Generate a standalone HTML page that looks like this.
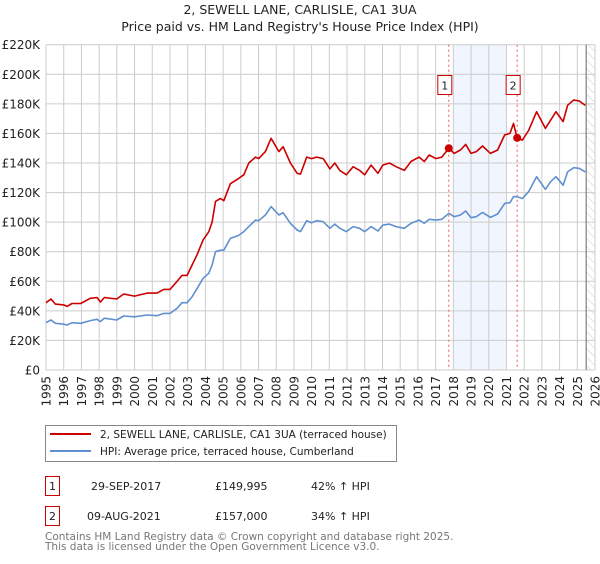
<!DOCTYPE html>
<html><head><meta charset="utf-8"><style>
html,body{margin:0;padding:0;background:#fff;}
body{width:600px;height:560px;overflow:hidden;font-family:"DejaVu Sans","Liberation Sans",sans-serif;}
svg text{font-family:"DejaVu Sans","Liberation Sans",sans-serif;}
</style></head><body>
<svg id="chart" width="600" height="560" xmlns="http://www.w3.org/2000/svg">
<text x="300" y="14" text-anchor="middle" font-size="12.5" fill="#222">2, SEWELL LANE, CARLISLE, CA1 3UA</text>
<text x="300" y="31" text-anchor="middle" font-size="12.5" fill="#222">Price paid vs. HM Land Registry's House Price Index (HPI)</text>
<g id="grid"></g><g id="marks"></g><g id="axes"></g>
<g>
<rect x="45.5" y="425.5" width="351" height="36" fill="#fff" stroke="#888"/>
<line x1="50" y1="434" x2="91" y2="434" stroke="#cc0000" stroke-width="2"/>
<text x="100" y="438" font-size="10.5" fill="#222">2, SEWELL LANE, CARLISLE, CA1 3UA (terraced house)</text>
<line x1="50" y1="451" x2="91" y2="451" stroke="#6090d0" stroke-width="2"/>
<text x="100" y="455" font-size="10.5" fill="#222">HPI: Average price, terraced house, Cumberland</text>
</g>
<g>
<rect x="45.5" y="476.5" width="14" height="19" fill="#fff" stroke="#cc0000"/>
<text x="52.5" y="490" text-anchor="middle" font-size="11" fill="#222">1</text>
<text x="91" y="487" font-size="11" fill="#222" dominant-baseline="middle">29-SEP-2017</text>
<text x="215" y="487" font-size="11" fill="#222" dominant-baseline="middle">£149,995</text>
<text x="311" y="487" font-size="11" fill="#222" dominant-baseline="middle">42% ↑ HPI</text>
<rect x="45.5" y="506.5" width="14" height="19" fill="#fff" stroke="#cc0000"/>
<text x="52.5" y="520" text-anchor="middle" font-size="11" fill="#222">2</text>
<text x="87" y="517" font-size="11" fill="#222" dominant-baseline="middle">09-AUG-2021</text>
<text x="215" y="517" font-size="11" fill="#222" dominant-baseline="middle">£157,000</text>
<text x="311" y="517" font-size="11" fill="#222" dominant-baseline="middle">34% ↑ HPI</text>
</g>
<text x="45" y="540" font-size="10.5" fill="#777">Contains HM Land Registry data © Crown copyright and database right 2025.</text>
<text x="45" y="550" font-size="10.5" fill="#777">This data is licensed under the Open Government Licence v3.0.</text>
</svg>
<script>
const dates=[1995.0,1995.28,1995.53,1996.0,1996.19,1996.47,1996.96,1997.5,1997.88,1998.07,1998.3,1998.99,1999.39,2000.0,2000.71,2001.27,2001.65,2002.0,2002.4,2002.68,2002.97,2003.25,2003.53,2003.87,2004.19,2004.38,2004.57,2004.85,2005.04,2005.41,2005.88,2006.17,2006.45,2006.83,2007.01,2007.39,2007.71,2008.15,2008.39,2008.8,2009.18,2009.37,2009.72,2010.0,2010.28,2010.65,2011.03,2011.31,2011.59,2011.96,2012.34,2012.71,2012.99,2013.36,2013.74,2014.02,2014.39,2014.77,2015.23,2015.61,2016.07,2016.36,2016.64,2017.01,2017.35,2017.75,2018.05,2018.4,2018.7,2019.0,2019.3,2019.65,2020.1,2020.5,2020.9,2021.2,2021.4,2021.6,2021.9,2022.25,2022.7,2023.2,2023.5,2023.8,2024.2,2024.45,2024.8,2025.1,2025.45];
const propertyValues=[45.5,48,44.6,44,43,45,45,48.5,49,46,49,48,51.4,50,52,52,54.5,54.5,60,64,64,71,78,88,93.5,100,114,116,114.5,126,129.6,132,140,144,143,147.7,156.7,147.7,151,140,133,132.5,144,143,144,143,136,140,135,132,137.5,135,132,138.6,133,138.6,140,137.5,135,141,144,141,145.4,143,144,150,146.5,148.8,152.6,146.5,147.7,151.5,146.5,148.8,159,160,166.8,157,155.5,162,174.7,163.4,169,174.7,168,179,182.6,182,179];
const hpiValues=[32,33.8,31.6,31,30.4,32,31.6,33.4,34.3,32.7,35,33.8,36.5,36,37.2,36.7,38.3,38.3,41.7,45.5,45.5,49.6,55.2,62,65.4,71,80,81,81,89,91,93.6,97,101.4,101,104.8,110.5,104.8,106.4,99.2,94.7,93.6,101,99.6,101,100.3,95.8,98.7,95.8,93.6,97,95.8,93.6,97,94,98,98.7,97,95.8,99.2,101.4,99.2,101.9,101.4,101.9,106,103.7,104.8,107.5,103,103.7,106.6,103.2,105.5,112.7,113.2,117.2,117.2,116,120.6,130.7,122.2,127.4,130.7,125,134,136.8,136.4,134];
const saleDates=[2017.745,2021.605];
const salePrices=[149.995,157];
const saleLabels=["1","2"];
const yTicks=[0,20,40,60,80,100,120,140,160,180,200,220];
const yTickLabels=["£0","£20K","£40K","£60K","£80K","£100K","£120K","£140K","£160K","£180K","£200K","£220K"];
const xTicks=[1995,1996,1997,1998,1999,2000,2001,2002,2003,2004,2005,2006,2007,2008,2009,2010,2011,2012,2013,2014,2015,2016,2017,2018,2019,2020,2021,2022,2023,2024,2025,2026];

const L=46,R=595,T=44.7,B=370;
const X0=1995,X1=2026,Ymax=220;
const xs=v=>L+(v-X0)/(X1-X0)*(R-L);
const ys=v=>B-v/Ymax*(B-T);
const NS="http://www.w3.org/2000/svg";
function mk(tag,attrs,parent){const e=document.createElementNS(NS,tag);for(const k in attrs)e.setAttribute(k,attrs[k]);parent.appendChild(e);return e;}
const grid=document.getElementById('grid'),marks=document.getElementById('marks'),axes=document.getElementById('axes');

const shade=mk('rect',{x:xs(2018),y:T,width:xs(2021)-xs(2018),height:B-T,fill:'#eef3fc',opacity:0.8},grid);


const defs=mk('defs',{},grid);
const pat=mk('pattern',{id:'hatch',width:6,height:6,patternUnits:'userSpaceOnUse',patternTransform:'rotate(-45)'},defs);
mk('line',{x1:0,y1:0,x2:0,y2:6,stroke:'#ccc','stroke-width':1},pat);
const hatch=mk('rect',{x:xs(2025.5),y:T,width:R-xs(2025.5),height:B-T,fill:'url(#hatch)'},grid);



yTicks.forEach((v,i)=>{
  const g=mk('line',{x1:L,x2:R,y1:ys(v),y2:ys(v),stroke:'#ccc','stroke-width':1},grid);
  
  
  const t=mk('text',{x:40,y:ys(v)+4.5,'text-anchor':'end','font-size':12,fill:'#222'},axes);
  t.textContent=yTickLabels[i];
  
  
});
xTicks.forEach(v=>{
  const g=mk('line',{x1:xs(v),x2:xs(v),y1:T,y2:B,stroke:'#ccc','stroke-width':1},grid);
  
  
  const t=mk('text',{x:0,y:0,'text-anchor':'end','font-size':12,fill:'#222',transform:`translate(${xs(v)+4.5},${B+6}) rotate(-90)`},axes);
  t.textContent=v;
  
  
});
const nowLine=mk('line',{x1:xs(2025.5),x2:xs(2025.5),y1:T,y2:B,stroke:'#666','stroke-width':1},grid);



saleDates.forEach((d,i)=>{
  const l=mk('line',{x1:xs(d),x2:xs(d),y1:T,y2:B,stroke:'#ee5555','stroke-width':1,'stroke-dasharray':'2,3'},marks);
  
  
});

function path(vals,color,name){
  const p=mk('path',{d:vals.map((v,i)=>(i?'L':'M')+xs(dates[i]).toFixed(1)+','+ys(v).toFixed(1)).join(''),fill:'none',stroke:color,'stroke-width':1.6,'stroke-linejoin':'round'},marks);
  
  
}
path(hpiValues,'#6090d0','hpi-line');
path(propertyValues,'#cc0000','property-price-line');

saleDates.forEach((d,i)=>{
  const c=mk('circle',{cx:xs(d),cy:ys(salePrices[i]),r:4,fill:'#cc0000'},marks);
  
  
  const bx=xs(d)-10.5,by=75.5;
  const r=mk('rect',{x:bx-0.5,y:by,width:14,height:19,fill:'#fff',stroke:'#cc0000'},marks);
  
  
  const t=mk('text',{x:bx+6.5,y:by+14,'text-anchor':'middle','font-size':11,fill:'#222'},marks);
  t.textContent=saleLabels[i];
  
  
});
</script>
</body></html>
